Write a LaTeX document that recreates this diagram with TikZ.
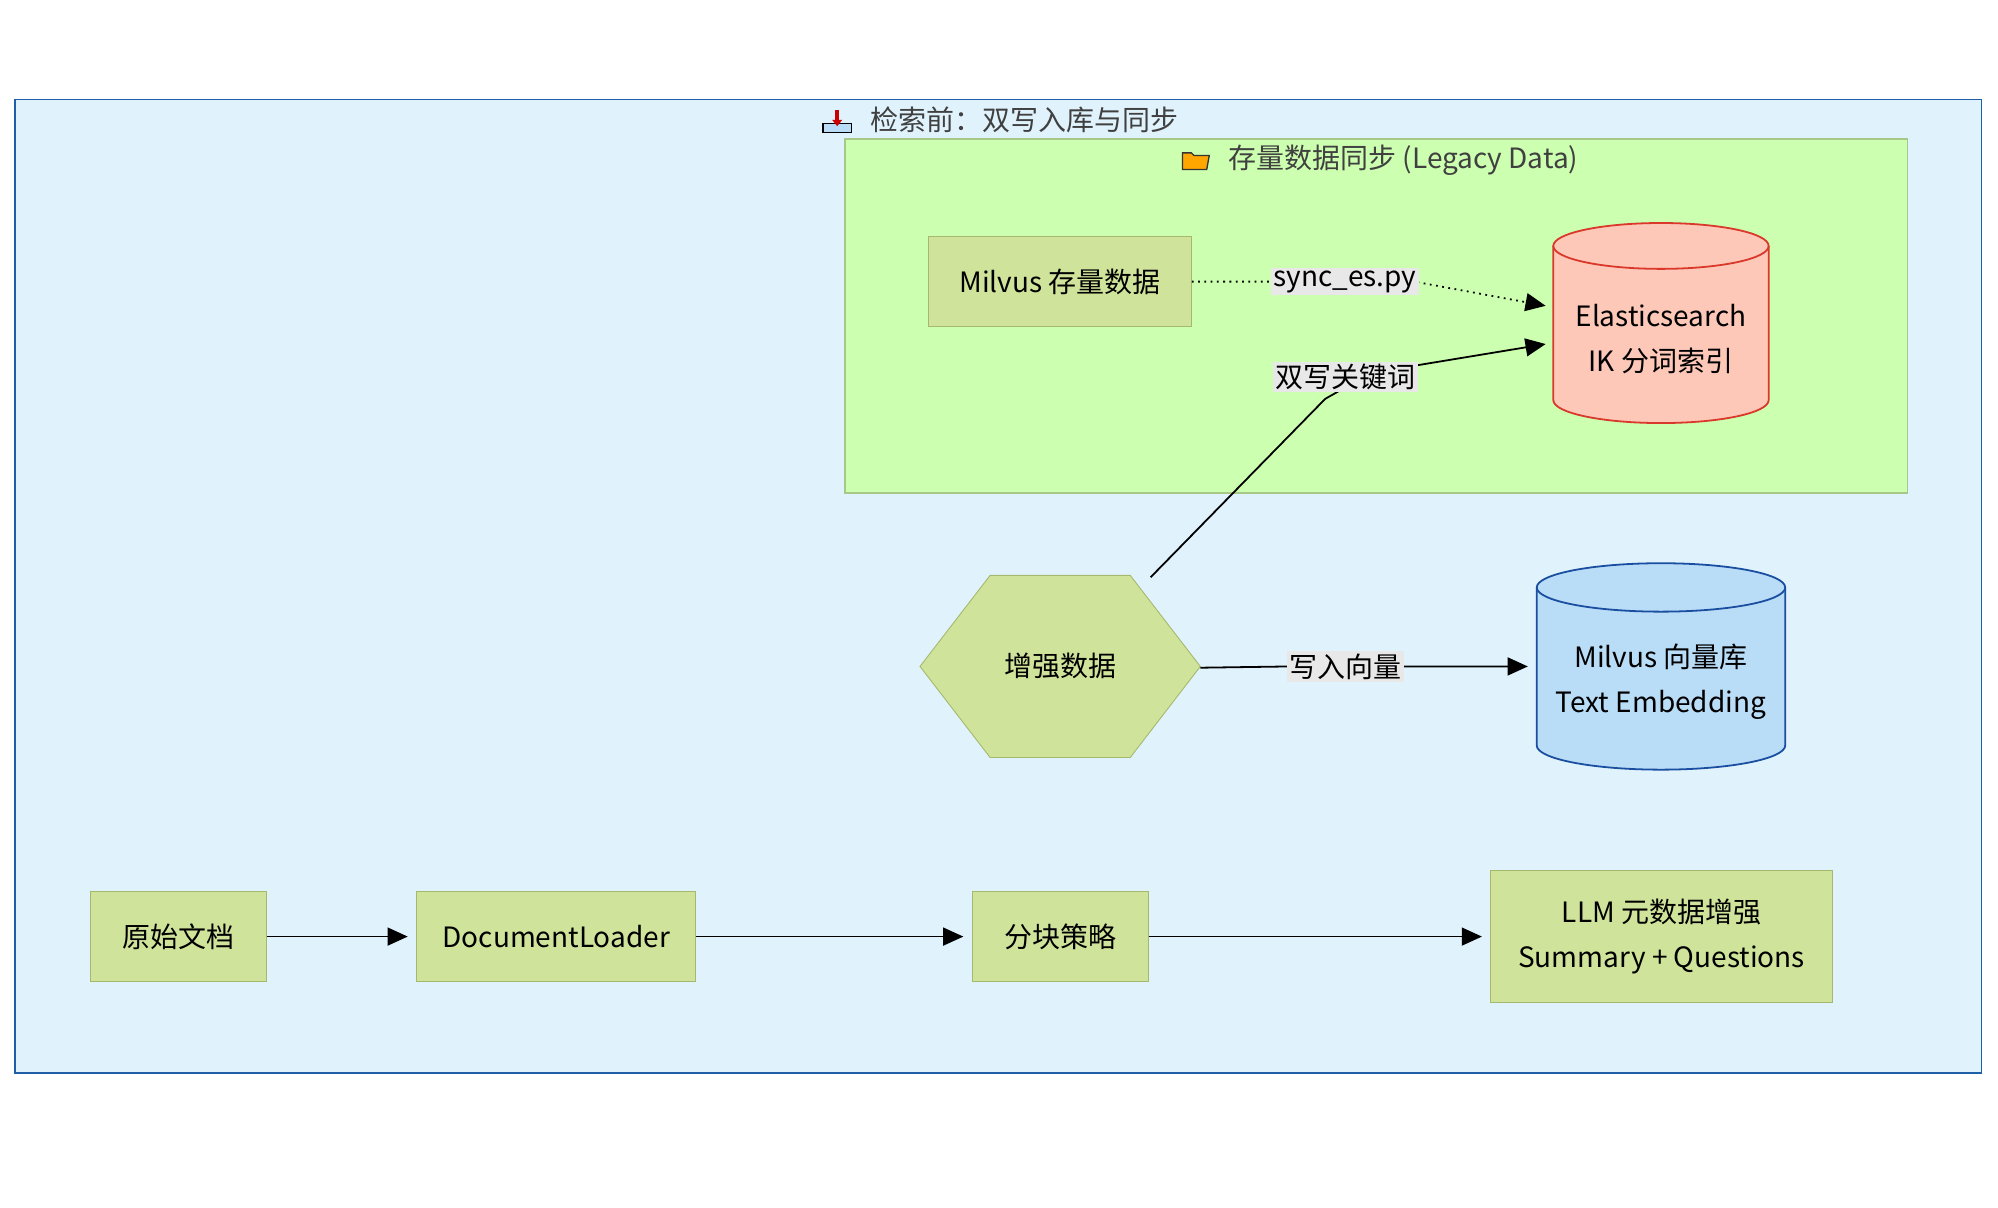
\documentclass[tikz,border=0pt]{standalone}
\usepackage{fontspec}
\setmainfont{Noto Sans CJK SC}
\usetikzlibrary{shapes.geometric,arrows.meta}
\definecolor{outerfill}{HTML}{E0F3FC}
\definecolor{outerdraw}{HTML}{1F5FA8}
\definecolor{grfill}{HTML}{CCFFB0}
\definecolor{grdraw}{HTML}{A8C88A}
\definecolor{boxfill}{HTML}{D0E39A}
\definecolor{boxdraw}{HTML}{A6B86E}
\definecolor{esfill}{HTML}{FDC8B8}
\definecolor{esdraw}{HTML}{D9382A}
\definecolor{mvfill}{HTML}{B9DCF7}
\definecolor{mvdraw}{HTML}{1A4EA0}
\definecolor{lblbg}{HTML}{E8E8E8}
\tikzset{
  box/.style={draw=boxdraw,fill=boxfill,inner sep=0pt,font=\fontsize{12.5}{20}\selectfont,align=center},
  lbl/.style={fill=lblbg,inner sep=1pt,font=\fontsize{12.5}{15}\selectfont},
  arr/.style={-{Triangle[length=9pt,width=8pt]},line width=0.8pt},
  ttl/.style={font=\fontsize{12.5}{15}\selectfont,text=black!75}
}
\begin{document}
\begin{tikzpicture}[x=0.02cm,y=-0.02cm]
\useasboundingbox (0,0) rectangle (1568,948);
\draw[outerdraw,fill=outerfill,line width=0.8pt] (12,78) rectangle (1555,842);
\node[ttl,anchor=west] (t1) at (677,94) {检索前：双写入库与同步};
% tray icon
\draw[black,fill=mvfill,line width=0.6pt] (646,97) -- (668,97) -- (668,104) -- (646,104) -- cycle;
\draw[red!80!black,line width=1.6pt] (657,86) -- (657,96);
\fill[red!80!black] (653,94) -- (661,94) -- (657,99) -- cycle;
\draw[grdraw,fill=grfill,line width=0.8pt] (663,109) rectangle (1497,387);
\node[ttl,anchor=west] (t2) at (958,126) {存量数据同步 (Legacy Data)};
% folder icon
\draw[black!80,fill=orange!70!yellow,line width=0.6pt] (928,120) -- (935,120) -- (937,122) -- (949,122) -- (947,133) -- (928,133) -- cycle;
\node[box,minimum width=206*0.02cm,minimum height=71*0.02cm] (ms) at (832,221) {Milvus 存量数据};
% Elasticsearch cylinder
\draw[esdraw,fill=esfill,line width=0.8pt] (1219,193) -- (1219,314) arc[start angle=180,end angle=0,x radius=84.5,y radius=18] -- (1388,193) arc[start angle=0,end angle=-180,x radius=84.5,y radius=18] -- cycle;
\draw[esdraw,line width=0.8pt] (1219,193) arc[start angle=180,end angle=0,x radius=84.5,y radius=18];
\node[draw=none,minimum width=183*0.02cm,minimum height=157*0.02cm,align=center,font=\fontsize{12.5}{20}\selectfont] (es) at (1303.5,266) {Elasticsearch\\IK 分词索引};
% Milvus cylinder
\draw[mvdraw,fill=mvfill,line width=0.8pt] (1206,461) -- (1206,585) arc[start angle=180,end angle=0,x radius=97.5,y radius=19] -- (1401,461) arc[start angle=0,end angle=-180,x radius=97.5,y radius=19] -- cycle;
\draw[mvdraw,line width=0.8pt] (1206,461) arc[start angle=180,end angle=0,x radius=97.5,y radius=19];
\node[draw=none,minimum width=205*0.02cm,minimum height=162*0.02cm,align=center,font=\fontsize{12.5}{20}\selectfont] (mv) at (1303.5,535) {Milvus 向量库\\Text Embedding};
% hexagon
\node[box,regular polygon,regular polygon sides=6,minimum size=220*0.02cm,yscale=0.75] (hx) at (832,523) {};
\node[font=\fontsize{12.5}{15}\selectfont] (hxt) at (832,523) {增强数据};
\node[box,minimum width=138*0.02cm,minimum height=71*0.02cm] (yd) at (140,735) {原始文档};
\node[box,minimum width=219*0.02cm,minimum height=71*0.02cm] (dl) at (436.5,735) {DocumentLoader};
\node[box,minimum width=138*0.02cm,minimum height=71*0.02cm] (fk) at (832,735) {分块策略};
\node[box,minimum width=268*0.02cm,minimum height=104*0.02cm] (llm) at (1304,735) {LLM 元数据增强\\Summary + Questions};
\draw[arr] (yd) -- (320,735);
\draw[arr] (dl) -- (756,735);
\draw[arr] (fk) -- (1163,735);
\coordinate (esa) at (1213,240);
\coordinate (esb) at (1213,270);
\coordinate (mva) at (1199,523);
\coordinate (hxtr) at (903,453);
\coordinate (hxr) at (942,524);
\draw[arr,dotted] (ms.east) -- (1001,221) -- node[lbl,pos=0.5] {sync\_es.py} (1110,221) -- (esa);
\draw[arr] (hxtr) -- (1040,313) -- (1070,296) -- (1110,287) -- (esb);
\node[lbl] (l2) at (1056,296) {双写关键词};
\draw[arr] (hxr) -- (1012,523) -- node[lbl,pos=0.5] {写入向量} (1100,523) -- (mva);
\end{tikzpicture}
\end{document}
